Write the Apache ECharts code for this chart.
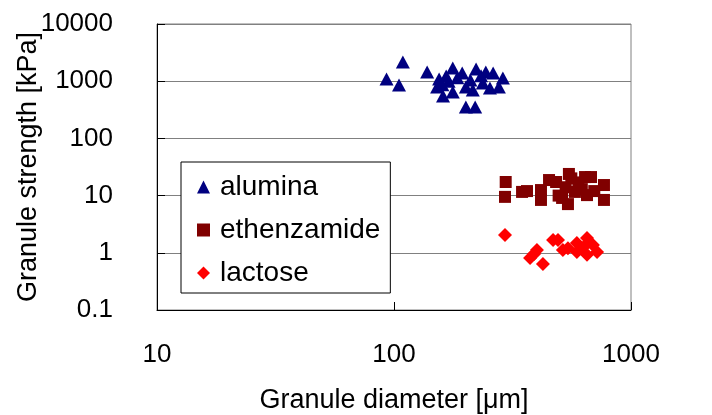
<!DOCTYPE html>
<html>
<head>
<meta charset="utf-8">
<script src="https://cdn.jsdelivr.net/npm/echarts@6/dist/echarts.min.js"></script>
<style>html,body{margin:0;padding:0;background:#fff}#c{width:712px;height:415px}</style>
</head>
<body>
<div id="c"></div>
<script>
const seriesNames = ['alumina', 'ethenzamide', 'lactose'];
const xTicks = [10, 100, 1000];
const yTicks = [0.1, 1, 10, 100, 1000, 10000];

const alumina = [
  [109, 2170], [93, 1090], [105, 857], [138, 1450], [155, 1090], [152, 792],
  [161, 551], [177, 1700], [166, 1230], [177, 648], [194, 1390], [201, 792],
  [222, 1630], [215, 701], [201, 354], [220, 354], [244, 1450], [237, 931],
  [262, 1390], [254, 760], [288, 1140], [277, 792], [233, 1250], [170, 1000],
  [185, 1150], [160, 870], [210, 1050]
];
const ethenzamide = [
  [296, 17.3], [294, 9.5], [347, 11.6], [364, 12.0], [417, 12.5], [417, 8.4],
  [451, 18.7], [483, 17.3], [512, 9.1], [542, 7.1], [547, 23.9], [580, 11.6],
  [640, 21.1], [652, 10.2], [678, 21.1], [769, 15.3], [769, 8.4], [600, 17],
  [530, 14], [620, 13], [700, 12], [560, 20], [495, 10]
];
const lactose = [
  [294, 2.05], [375, 0.81], [401, 1.12], [425, 0.64], [469, 1.67], [492, 1.67],
  [516, 1.12], [591, 1.48], [591, 1.03], [652, 1.82], [691, 1.37], [652, 0.92],
  [719, 1.03], [542, 1.2], [630, 1.25], [390, 0.95]
];

const chart = echarts.init(document.getElementById('c'));
const font = 'Liberation Sans, Arial, sans-serif';
const plain = v => String(v);
chart.setOption({
  animation: false,
  backgroundColor: '#fff',
  grid: { left: 157, right: 81, top: 24, bottom: 105, containLabel: false, outerBoundsMode: 'none', show: true, borderColor: '#808080', borderWidth: 1 },
  xAxis: {
    type: 'log', logBase: 10, min: xTicks[0], max: xTicks[xTicks.length - 1],
    name: 'Granule diameter [μm]', nameLocation: 'middle', nameGap: 77, nameMoveOverlap: false,
    nameTextStyle: { fontFamily: font, fontSize: 27, color: '#000' },
    axisLine: { show: true, lineStyle: { color: '#000', width: 1 } },
    axisTick: { show: true, inside: true, length: 8, lineStyle: { color: '#000' } },
    minorTick: { show: false },
    splitLine: { show: false },
    axisLabel: { fontFamily: font, fontSize: 26, color: '#000', margin: 32, formatter: plain }
  },
  yAxis: {
    type: 'log', logBase: 10, min: yTicks[0], max: yTicks[yTicks.length - 1],
    name: 'Granule strength [kPa]', nameLocation: 'middle', nameGap: 115, nameMoveOverlap: false,
    nameTextStyle: { fontFamily: font, fontSize: 27, color: '#000' },
    axisLine: { show: true, lineStyle: { color: '#000', width: 1 } },
    axisTick: { show: true, inside: true, length: 8, lineStyle: { color: '#000' } },
    splitLine: { show: true, lineStyle: { color: '#808080', width: 1 } },
    axisLabel: { fontFamily: font, fontSize: 26, color: '#000', margin: 44, formatter: plain }
  },
  legend: {
    orient: 'vertical', left: 181, top: 162,
    padding: [11, 10, 6, 16],
    itemGap: 15, itemWidth: 13, itemHeight: 13,
    backgroundColor: '#fff', borderColor: '#000', borderWidth: 1,
    textStyle: { fontFamily: font, fontSize: 28, color: '#000', padding: [0, 0, 0, 5] },
    data: [
      { name: seriesNames[0], icon: 'triangle', itemStyle: { color: '#000080' } },
      { name: seriesNames[1], icon: 'rect', itemStyle: { color: '#800000' } },
      { name: seriesNames[2], icon: 'diamond', itemStyle: { color: '#ff0000' } }
    ]
  },
  series: [
    { name: seriesNames[0], type: 'scatter', symbol: 'triangle', symbolSize: [14, 13], data: alumina, itemStyle: { color: '#000080', opacity: 1 } },
    { name: seriesNames[1], type: 'scatter', symbol: 'rect', symbolSize: 12, data: ethenzamide, itemStyle: { color: '#800000', opacity: 1 } },
    { name: seriesNames[2], type: 'scatter', symbol: 'diamond', symbolSize: 14, data: lactose, itemStyle: { color: '#ff0000', opacity: 1 } }
  ]
});
</script>
</body>
</html>
